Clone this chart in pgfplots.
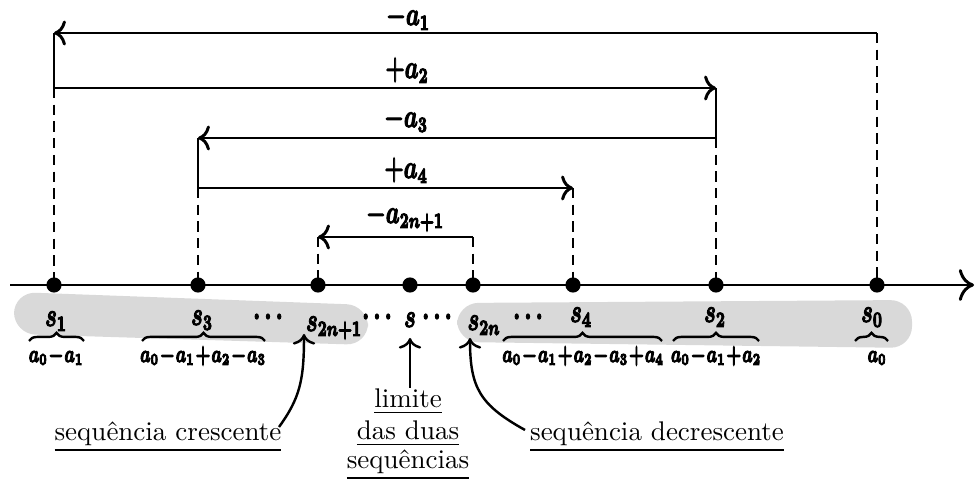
\documentclass[border=0pt]{standalone}
\usepackage{pgfplots}
\pgfplotsset{compat=1.18}
\usetikzlibrary{arrows.meta,decorations.pathreplacing}

% heavy, condensed bold math, as in the reference
\newcommand{\heavy}[1]{\special{pdf:literal direct 2 Tr 0.45 w}#1\special{pdf:literal direct 0 Tr}}
\newcommand{\lab}[1]{\heavy{\scalebox{0.68}[1]{\large\boldmath$\medmuskip=1mu #1$}}}
\newcommand{\sumlab}[1]{\heavy{\scalebox{0.66}[1]{\small\boldmath$\medmuskip=1mu #1$}}}

\begin{document}
\begin{tikzpicture}[
    every node/.append style={inner sep=0pt},
    arr/.style={line width=1.1pt, -{Computer Modern Rightarrow[scale=1.1]}},
    dsh/.style={line width=0.55pt, dash pattern=on 3.8pt off 2.4pt},
    brc/.style={decorate, decoration={brace, amplitude=3pt}, line width=0.9pt},
]
\begin{axis}[
    width=363pt, height=178.15pt, scale only axis,
    axis lines=none,
    xmin=0, xmax=980, ymin=0, ymax=481,
    y dir=reverse,
    clip=false,
]

% keep the whole frame in the picture
\path (axis cs:0,0) rectangle (axis cs:980,481);

% grey blobs behind the partial sums
\fill[gray!30, rounded corners=8pt] (axis cs:14,292) -- (axis cs:368,305) -- (axis cs:368,345) -- (axis cs:14,334) -- cycle;
\fill[gray!30, rounded corners=8pt] (axis cs:457,303) -- (axis cs:912,300) -- (axis cs:912,348) -- (axis cs:457,342) -- cycle;

% the number line
\draw[line width=1.1pt, -{Computer Modern Rightarrow[scale=1.4]}] (axis cs:10,285) -- (axis cs:974,285);

% the steps
\draw[arr] (axis cs:877,33) -- (axis cs:54,33);
\node[anchor=base] at (axis cs:408,25) {\lab{-a_1}};
\draw[line width=0.6pt] (axis cs:54,33) -- (axis cs:54,88);
\draw[arr] (axis cs:54,88) -- (axis cs:716,88);
\node[anchor=base] at (axis cs:407,78) {\lab{+a_2}};
\draw[line width=0.6pt] (axis cs:716,88) -- (axis cs:716,138);
\draw[arr] (axis cs:716,138) -- (axis cs:198,138);
\node[anchor=base] at (axis cs:406,127) {\lab{-a_3}};
\draw[line width=0.6pt] (axis cs:198,138) -- (axis cs:198,188);
\draw[arr] (axis cs:198,188) -- (axis cs:573,188);
\node[anchor=base] at (axis cs:406,178) {\lab{+a_4}};
\draw[arr] (axis cs:473,237) -- (axis cs:318,237);
\node[anchor=base] at (axis cs:405,223) {\lab{-a_{2n+1}}};

% dashed drops to the line
\draw[dsh] (axis cs:877,33) -- (axis cs:877,285);
\draw[dsh] (axis cs:54,88) -- (axis cs:54,285);
\draw[dsh] (axis cs:716,138) -- (axis cs:716,285);
\draw[dsh] (axis cs:198,188) -- (axis cs:198,285);
\draw[dsh] (axis cs:573,188) -- (axis cs:573,285);
\draw[dsh] (axis cs:318,237) -- (axis cs:318,285);
\draw[dsh] (axis cs:473,237) -- (axis cs:473,285);

% the points s_k
\addplot[only marks, mark=*, mark size=2.6pt, black] coordinates {
(54,285) (198,285) (318,285) (410,285) (473,285) (573,285) (716,285) (877,285)
};

% names of the points
\node[anchor=base] at (axis cs:56,326) {\lab{s_1}};
\node[anchor=base] at (axis cs:202,325) {\lab{s_3}};
\node[anchor=base] at (axis cs:334,331) {\lab{s_{2n+1}}};
\node[anchor=base] at (axis cs:410,327) {\lab{s}};
\node[anchor=base] at (axis cs:484,330) {\lab{s_{2n}}};
\node[anchor=base] at (axis cs:581,322) {\lab{s_4}};
\node[anchor=base] at (axis cs:715,322) {\lab{s_2}};
\node[anchor=base] at (axis cs:872,322) {\lab{s_0}};
\node at (axis cs:268,317) {\lab{\cdots}};
\node at (axis cs:377,317) {\lab{\cdots}};
\node at (axis cs:437,317) {\lab{\cdots}};
\node at (axis cs:528,317) {\lab{\cdots}};

% braces and the sums
\draw[brc] (axis cs:29,341) -- (axis cs:84,341);
\draw[brc] (axis cs:142,341) -- (axis cs:265,341);
\draw[brc] (axis cs:503,341) -- (axis cs:662,341);
\draw[brc] (axis cs:673,341) -- (axis cs:759,341);
\draw[brc] (axis cs:855,341) -- (axis cs:888,341);
\node[anchor=base] at (axis cs:56,362) {\sumlab{a_0-a_1}};
\node[anchor=base] at (axis cs:203,362) {\sumlab{a_0-a_1+a_2-a_3}};
\node[anchor=base] at (axis cs:583,362) {\sumlab{a_0-a_1+a_2-a_3+a_4}};
\node[anchor=base] at (axis cs:716,362) {\sumlab{a_0-a_1+a_2}};
\node[anchor=base] at (axis cs:877,362) {\sumlab{a_0}};

% captions with their arrows
\draw[line width=0.9pt, -{Computer Modern Rightarrow[scale=1.1]}] (axis cs:279,427) .. controls (axis cs:300,398) and (axis cs:304,380) .. (axis cs:304,334);
\draw[line width=0.9pt, -{Computer Modern Rightarrow[scale=1.1]}] (axis cs:410,388) -- (axis cs:410,338);
\draw[line width=0.9pt, -{Computer Modern Rightarrow[scale=1.1]}] (axis cs:525,430) .. controls (axis cs:480,405) and (axis cs:470,388) .. (axis cs:470,338);
\node[anchor=base] at (axis cs:168,441) {\underline{sequência crescente}};
\node[anchor=base] at (axis cs:657,441) {\underline{sequência decrescente}};
\node[anchor=base] at (axis cs:408,408) {\underline{limite}};
\node[anchor=base] at (axis cs:408,440) {\underline{das duas}};
\node[anchor=base] at (axis cs:408,469) {\underline{sequências}};

\end{axis}
\end{tikzpicture}
\end{document}
